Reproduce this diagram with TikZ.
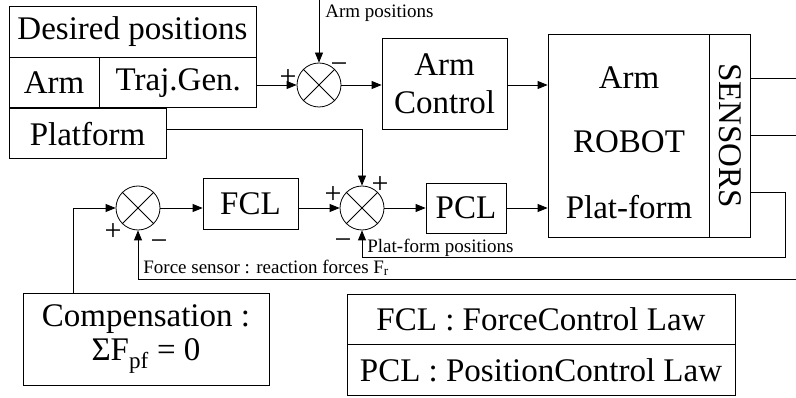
\documentclass[tikz,border=0pt]{standalone}
\usepackage{fontspec}
\setmainfont{Liberation Serif}
\usetikzlibrary{arrows.meta, positioning}

\newcommand{\bigfont}{\fontsize{33}{38}\selectfont}
\newcommand{\smallfont}{\fontsize{19}{22}\selectfont}

\begin{document}
\begin{tikzpicture}[x=1pt, y=-1pt, line width=0.8pt,
    box/.style={draw, inner sep=0pt, font=\bigfont},
    sumnode/.style={draw, circle, minimum size=44pt, inner sep=0pt},
    arr/.style={-{Triangle[length=10pt,width=8pt]}},
    sgn/.style={font=\fontsize{30}{30}\selectfont, inner sep=0pt},
    lbl/.style={font=\smallfont, inner sep=0pt, anchor=west}]
  \useasboundingbox (0,0) rectangle (796,398);

  % desired positions
  \node[box, minimum width=247pt, minimum height=51pt] (desired) at (132.5,31.5) {Desired positions};
  \node[box, minimum width=90pt, minimum height=50pt, anchor=north west] (armcell) at (desired.south west) {Arm};
  \node[box, minimum width=157pt, minimum height=50pt, right=0pt of armcell] (trajgen) {Traj.Gen.};
  \node[box, minimum width=157pt, minimum height=50pt, anchor=north west] (platform) at (armcell.south west) {Platform};

  % arm loop
  \node[sumnode] (sum1) at (319,85) {};
  \node[box, minimum width=125pt, minimum height=91pt, align=center] (armctrl) at (444.5,83.5) {Arm\\Control};

  % robot
  \node[box, minimum width=161pt, minimum height=203pt] (robot) at (628.5,135.5) {};
  \node[box, minimum width=41pt, minimum height=203pt, right=0pt of robot] (sensors) {};
  \node[font=\bigfont, rotate=-90] (senstxt) at (sensors) {SENSORS};
  \node[font=\bigfont] (robarm) at (629,78) {Arm};
  \node[font=\bigfont] (robname) at (629,142) {ROBOT};
  \node[font=\bigfont] (robpf) at (629,207) {Plat-form};

  % platform loop
  \node[sumnode] (sum0) at (138,208) {};
  \node[box, minimum width=95pt, minimum height=51pt] (fcl) at (250.5,203.5) {FCL};
  \node[sumnode] (sum2) at (362,208) {};
  \node[box, minimum width=80pt, minimum height=50pt] (pcl) at (466,208) {PCL};

  \foreach \s in {sum0,sum1,sum2} {
    \draw (\s.north west) -- (\s.south east) (\s.north east) -- (\s.south west);
  }

  % bottom boxes
  \node[box, minimum width=246pt, minimum height=92pt, align=center,
        font=\fontsize{33}{34}\selectfont] (comp) at (146,339)
        {Compensation :\\ΣF\textsubscript{pf} = 0};
  \node[box, minimum width=388pt, minimum height=50pt] (fcldef) at (541,319) {FCL : ForceControl Law};
  \node[box, minimum width=388pt, minimum height=51pt, below=0pt of fcldef] (pcldef) {PCL : PositionControl Law};

  % connectors
  \coordinate (armpos) at (319,0);
  \coordinate (armout) at (796,78);
  \coordinate (robout) at (796,135);
  \coordinate (pfturn) at (785,257);
  \coordinate (forcein) at (796,279);

  \draw[arr] (trajgen.east |- sum1.west) -- (sum1.west);
  \draw[arr] (armpos) -- (sum1.north);
  \draw[arr] (sum1.east) -- (sum1.east -| armctrl.west);
  \draw[arr] (armctrl.east |- sum1.east) -- (robot.west |- sum1.east);
  \draw[arr] ([yshift=4pt]platform.east) -| (sum2.north);
  \draw[arr] (sum0.east) -- (fcl.west |- sum0.east);
  \draw[arr] (fcl.east |- sum2.west) -- (sum2.west);
  \draw[arr] (sum2.east) -- (pcl.west);
  \draw[arr] (pcl.east) -- (robot.west |- pcl.east);
  \draw[arr] ([xshift=-73pt]comp.north) |- (sum0.west);
  \draw (sensors.east |- armout) -- (armout);
  \draw (sensors.east |- robout) -- (robout);
  \draw[arr] ([yshift=-56.5pt]sensors.east) -| (pfturn) -| (sum2.south);
  \draw[arr] (forcein) -| (sum0.south);

  % labels
  \node[lbl] (armposlbl) at (325,13) {Arm positions};
  \node[lbl] (pflbl) at (367,248) {Plat-form positions};
  \node[lbl] (forcelbl) at (143,268) {Force sensor : reaction forces F\textsubscript{r}};

  % signs
  \node[sgn] (s1p) at (288,78) {+};
  \node[sgn] (s1m) at (339,68) {−};
  \node[sgn] (s0p) at (113,232) {+};
  \node[sgn] (s0m) at (159,245) {−};
  \node[sgn] (s2p) at (333,195) {+};
  \node[sgn] (s2q) at (380,185) {+};
  \node[sgn] (s2m) at (343,244) {−};
\end{tikzpicture}
\end{document}
